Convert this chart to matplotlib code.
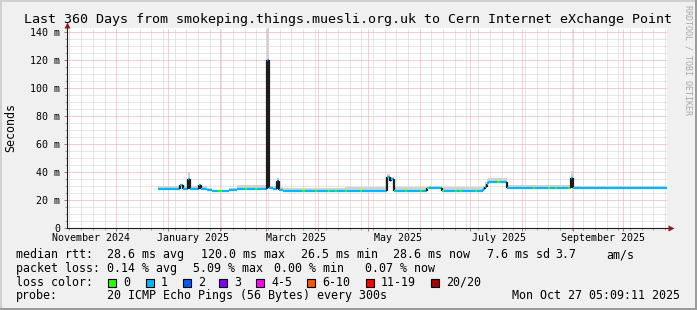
import matplotlib
matplotlib.use('Agg')
import matplotlib.pyplot as plt
import matplotlib.dates as mdates
import matplotlib.transforms as mtransforms
from matplotlib.collections import LineCollection
from matplotlib.lines import Line2D
from matplotlib.patches import Rectangle
import numpy as np
import pandas as pd

W, H = 697, 310

start = '2024-11-01 05:09'
end = '2025-10-27 05:09'
last_sample = '2025-10-27 00:00'

title = 'Last 360 Days from smokeping.things.muesli.org.uk to Cern Internet eXchange Point'

# median rtt (ms), step changes
rtt_dates = ['2024-12-25 22:00', '2025-01-08 07:00', '2025-01-10 02:00', '2025-01-13 02:00',
             '2025-01-14 07:00', '2025-01-19 17:00', '2025-01-20 22:00', '2025-01-24 12:00',
             '2025-01-27 12:00', '2025-01-31 02:00', '2025-02-02 12:00', '2025-02-06 17:00',
             '2025-02-11 12:00', '2025-02-16 07:00', '2025-02-17 05:00', '2025-02-22 07:00',
             '2025-02-23 05:00', '2025-03-01 05:00', '2025-03-02 10:00', '2025-03-05 02:00',
             '2025-03-07 05:00', '2025-03-08 17:00', '2025-03-11 02:00', '2025-03-22 12:00',
             '2025-03-24 07:00', '2025-03-30 07:00', '2025-03-31 05:00', '2025-04-07 02:00',
             '2025-04-08 00:00', '2025-04-11 00:00', '2025-04-12 12:00', '2025-04-17 07:00',
             '2025-04-18 12:00', '2025-04-26 07:00', '2025-04-27 05:00', '2025-05-12 07:00',
             '2025-05-14 07:00', '2025-05-15 00:00', '2025-05-16 07:00', '2025-05-17 05:00',
             '2025-05-23 07:00', '2025-05-24 05:00', '2025-06-01 07:00', '2025-06-02 05:00',
             '2025-06-05 12:00', '2025-06-06 10:00', '2025-06-14 12:00', '2025-06-15 10:00',
             '2025-06-22 07:00', '2025-06-23 05:00', '2025-06-25 07:00', '2025-06-26 05:00',
             '2025-07-04 07:00', '2025-07-05 05:00', '2025-07-09 02:00', '2025-07-10 02:00',
             '2025-07-11 02:00', '2025-07-12 02:00', '2025-07-17 12:00', '2025-07-19 07:00',
             '2025-07-23 12:00', '2025-08-08 02:00', '2025-08-09 02:00', '2025-08-17 02:00',
             '2025-08-18 00:00', '2025-08-21 07:00', '2025-08-22 05:00', '2025-08-29 02:00',
             '2025-08-30 22:00', '2025-08-31 19:00']
rtt_median = [28.4, 30.6, 28.4, 35.0, 28.4, 30.8, 28.4, 27.2,
              26.3, 26.3, 26.3, 27.4, 28.4, 28.4, 28.4, 28.4,
              28.4, 120.0, 28.6, 27.8, 33.5, 27.6, 26.9, 26.9,
              26.9, 26.9, 26.9, 26.9, 26.9, 26.9, 26.9, 26.9,
              26.9, 26.9, 26.9, 37.0, 33.5, 35.5, 26.9, 26.9,
              26.9, 26.9, 26.9, 26.9, 28.6, 28.6, 26.9, 26.9,
              26.9, 26.9, 26.9, 26.9, 26.9, 26.9, 27.8, 29.6,
              31.4, 32.8, 32.8, 32.8, 28.6, 28.6, 28.6, 28.6,
              28.6, 28.6, 28.6, 28.6, 36.0, 28.6]
rtt_loss = [1, 1, 1, 1, 1, 1, 1, 1,
            1, 0, 1, 1, 1, 0, 1, 0,
            1, 1, 1, 1, 2, 1, 1, 0,
            1, 0, 1, 0, 1, 0, 1, 0,
            1, 0, 1, 1, 1, 1, 0, 1,
            0, 1, 0, 1, 0, 1, 0, 1,
            0, 1, 0, 1, 0, 1, 1, 1,
            1, 1, 0, 1, 1, 0, 1, 0,
            1, 0, 1, 0, 1, 1]
smoke_top = [30.5, 31.5, 30.5, 40.0, 30.5, 31.5, 30.0, 28.5,
             27.5, 27.5, 27.5, 29.0, 31.0, 31.0, 31.0, 31.0,
             31.0, 150.0, 30.5, 30.0, 36.0, 29.5, 29.0, 29.0,
             29.0, 29.0, 29.0, 29.0, 29.0, 29.0, 29.0, 29.5,
             29.5, 29.5, 29.5, 38.5, 37.0, 37.0, 28.5, 29.5,
             29.5, 29.5, 29.5, 29.5, 30.5, 30.5, 29.5, 29.5,
             29.5, 29.5, 29.5, 29.5, 29.5, 29.5, 30.0, 33.0,
             35.5, 36.0, 36.0, 36.0, 31.0, 31.0, 31.0, 31.0,
             31.0, 31.0, 31.0, 31.0, 41.0, 30.5]

loss_labels = ['0', '1', '2', '3', '4-5', '6-10', '11-19', '20/20']
loss_colors = ['#26ff00', '#00b8ff', '#0059ff', '#7e00ff', '#ff00ff', '#ff5500', '#ff0000', '#a10000']

y_ticks = [0, 20, 40, 60, 80, 100, 120, 140]
month_labels = ['November 2024', 'January 2025', 'March 2025', 'May 2025', 'July 2025', 'September 2025']
month_label_dates = ['2024-11-15 19:00', '2025-01-15 19:00', '2025-03-18 19:00',
                     '2025-05-18 19:00', '2025-07-18 12:00', '2025-09-19 02:00']

# legend rows: (text, x position in px)
row_rtt = [('median rtt:', 16), ('28.6 ms avg', 107.3), ('120.0 ms max', 201), ('26.5 ms min', 300.7),
           ('28.6 ms now', 393.3), ('7.6 ms sd', 486.7), ('3.7', 555), ('am/s', 606.7)]
row_loss = [('packet loss:', 16), ('0.14 % avg', 107.3), ('5.09 % max', 193.3),
            ('0.00 % min', 274), ('0.07 % now', 365)]
box_x = [108.3, 145.7, 182.7, 219.3, 256, 307.3, 365.7, 430.7]
probe_text = '20 ICMP Echo Pings (56 Bytes) every 300s'
stamp = 'Mon Oct 27 05:09:11 2025'

plt.rcParams['font.family'] = 'DejaVu Sans Mono'

fig = plt.figure(figsize=(W / 100, H / 100), dpi=100, facecolor='#f0f0f0')


def fx(x):
    return x / W


def fy(y):
    return 1 - y / H


left, right, top, bottom = 66.5, 667.0, 28.0, 228.3
ax = fig.add_axes([fx(left), fy(bottom), (right - left) / W, (bottom - top) / H])
ax.set_facecolor('white')

t = mdates.date2num(pd.to_datetime(rtt_dates))
t_last = mdates.date2num(pd.Timestamp(last_sample))
t_next = np.append(t[1:], t_last)

# smoke
ax.fill_between(np.append(t, t_last), np.append(rtt_median, rtt_median[-1]),
                np.append(smoke_top, smoke_top[-1]), step='post', color='#d2d2d2', lw=0, zorder=2)

# median line coloured by loss
segs, cols = [], []
for i in range(len(t)):
    segs.append([(t[i], rtt_median[i]), (t_next[i], rtt_median[i])])
    cols.append(loss_colors[rtt_loss[i]])
    if i + 1 < len(t):
        jump = abs(rtt_median[i + 1] - rtt_median[i])
        segs.append([(t_next[i], rtt_median[i]), (t_next[i], rtt_median[i + 1])])
        cols.append('#1c1c1c' if jump > 1.5 else loss_colors[rtt_loss[i + 1]])
ax.add_collection(LineCollection(segs, colors=cols, linewidths=1.6, capstyle='butt', zorder=3))

ax.set_xlim(mdates.date2num(pd.Timestamp(start)), mdates.date2num(pd.Timestamp(end)))
ax.set_ylim(0, 143.1)

ax.xaxis.set_major_locator(mdates.MonthLocator())
ax.xaxis.set_minor_locator(mdates.WeekdayLocator(byweekday=mdates.SU))
ax.set_yticks(y_ticks)
ax.set_yticklabels(['0' if v == 0 else '%d m' % v for v in y_ticks])
ax.set_yticks(np.arange(0, 145, 5), minor=True)
ax.xaxis.set_major_formatter(plt.NullFormatter())

dash = (0, (1, 1))
ax.grid(which='minor', color='#cfcfcf', lw=0.72, ls=dash, zorder=0)
ax.grid(which='major', color='#eaa0a0', lw=0.72, ls=dash, zorder=1)
for s in ax.spines.values():
    s.set_visible(False)
ax.tick_params(which='major', length=2.2, width=0.72, color='#c07070', pad=2.5,
               labelsize=7.2, labelcolor='black')
ax.tick_params(which='minor', length=1.4, width=0.72, color='#a0a0a0')

# month labels: x in data units, y in figure units
lab_tr = mtransforms.blended_transform_factory(ax.transData, fig.transFigure)
for lab, d in zip(month_labels, month_label_dates):
    ax.text(mdates.date2num(pd.Timestamp(d)), fy(240.7), lab, transform=lab_tr,
            fontsize=7.2, ha='center', va='baseline', clip_on=False)

# axis lines and arrows
fig.add_artist(Line2D([fx(left), fx(670)], [fy(bottom), fy(bottom)], color='#202020', lw=0.8))
fig.add_artist(Line2D([fx(left), fx(left)], [fy(bottom), fy(24)], color='#202020', lw=0.8))
fig.add_artist(Line2D([fx(670.5)], [fy(bottom)], marker='>', ms=4, color='#8b1a1a', mec='none'))
fig.add_artist(Line2D([fx(left)], [fy(24.5)], marker='^', ms=4, color='#8b1a1a', mec='none'))

# title, unit, watermark
fig.text(fx(348), fy(23.3), title, fontsize=9.6, ha='center', va='baseline')
fig.text(fx(11), fy(127.5), 'Seconds', fontsize=8.4, rotation=90, ha='center', va='center')
fig.text(fx(688), fy(5), 'RRDTOOL / TOBI OETIKER', fontsize=6, rotation=-90, ha='center', va='top',
         color='#a8a8a8')

# legend
lg = 8.4
for txt, x in row_rtt:
    fig.text(fx(x), fy(258), txt, fontsize=lg, va='baseline')
for txt, x in row_loss:
    fig.text(fx(x), fy(271.7), txt, fontsize=lg, va='baseline')
fig.text(fx(16), fy(285.7), 'loss color:', fontsize=lg, va='baseline')
for lab, col, x in zip(loss_labels, loss_colors, box_x):
    fig.add_artist(Rectangle((fx(x), fy(286.5)), 8 / W, 8 / H, transform=fig.transFigure,
                             facecolor=col, edgecolor='black', lw=0.8))
    fig.text(fx(x + 15), fy(285.7), lab, fontsize=lg, va='baseline')
fig.text(fx(16), fy(299.3), 'probe:', fontsize=lg, va='baseline')
fig.text(fx(107.3), fy(299.3), probe_text, fontsize=lg, va='baseline')
fig.text(fx(680.5), fy(299.3), stamp, fontsize=lg, va='baseline', ha='right')

# image border
fig.add_artist(Rectangle((0, fy(2)), 1, 2 / H, transform=fig.transFigure, color='#d0d0d0', lw=0))
fig.add_artist(Rectangle((0, 0), 2 / W, 1, transform=fig.transFigure, color='#d0d0d0', lw=0))
fig.add_artist(Rectangle((0, 0), 1, 2 / H, transform=fig.transFigure, color='#9c9c9c', lw=0))
fig.add_artist(Rectangle((fx(695), 0), 2 / W, 1, transform=fig.transFigure, color='#9c9c9c', lw=0))

fig.savefig('out.png', dpi=100, facecolor=fig.get_facecolor())
